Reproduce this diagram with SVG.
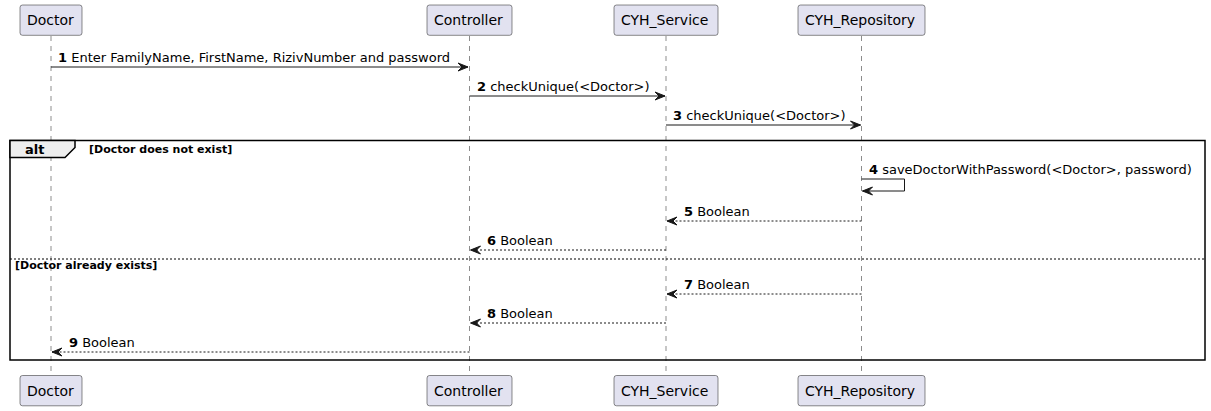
<svg xmlns="http://www.w3.org/2000/svg" width="1211" height="411" viewBox="0 0 1211 411">
<style>
.box{fill:#E2E2F0;stroke:#181818;stroke-width:0.5}
.pt{font-family:"DejaVu Sans",sans-serif;font-size:14px;fill:#000}
.life{stroke:#181818;stroke-width:0.5;stroke-dasharray:5,5;fill:none}
.msg{stroke:#181818;stroke-width:1;fill:none}
.ret{stroke:#181818;stroke-width:1;fill:none;stroke-dasharray:2,2}
.head{fill:#181818;stroke:#181818;stroke-width:1}
.ml{font-family:"DejaVu Sans",sans-serif;font-size:13px;fill:#000}
.b{font-weight:bold}
.cond{font-family:"DejaVu Sans",sans-serif;font-size:11px;font-weight:bold;fill:#000}
.frame{fill:none;stroke:#000;stroke-width:1.5}
</style>
<g id="lifelines">
<line class="life" x1="51" y1="36" x2="51" y2="376"/>
<line class="life" x1="469.5" y1="36" x2="469.5" y2="376"/>
<line class="life" x1="666" y1="36" x2="666" y2="376"/>
<line class="life" x1="861.5" y1="36" x2="861.5" y2="376"/>
</g>
<g id="alt-frame">
<rect class="frame" x="10" y="140.5" width="1195" height="219.5"/>
<polygon points="10,140.5 75,140.5 75,147.5 65,157.5 10,157.5" fill="#EEEEEE" stroke="#000" stroke-width="1.5"/>
<text class="ml b" x="25" y="154">alt</text>
<text class="cond" x="89" y="152.5">[Doctor does not exist]</text>
<line x1="10" y1="259" x2="1205" y2="259" stroke="#000" stroke-width="1" stroke-dasharray="2,2"/>
<text class="cond" x="15" y="269">[Doctor already exists]</text>
</g>
<g id="Doctor">
<rect class="box" x="20" y="5" width="62" height="30.3" rx="2.5"/>
<text class="pt" x="27" y="25">Doctor</text>
<rect class="box" x="20" y="375.5" width="62" height="30.3" rx="2.5"/>
<text class="pt" x="27" y="395.5">Doctor</text>
</g>
<g id="Controller">
<rect class="box" x="427" y="5" width="85" height="30.3" rx="2.5"/>
<text class="pt" x="434" y="25">Controller</text>
<rect class="box" x="427" y="375.5" width="85" height="30.3" rx="2.5"/>
<text class="pt" x="434" y="395.5">Controller</text>
</g>
<g id="CYH_Service">
<rect class="box" x="614" y="5" width="104" height="30.3" rx="2.5"/>
<text class="pt" x="621" y="25">CYH_Service</text>
<rect class="box" x="614" y="375.5" width="104" height="30.3" rx="2.5"/>
<text class="pt" x="621" y="395.5">CYH_Service</text>
</g>
<g id="CYH_Repository">
<rect class="box" x="798" y="5" width="127" height="30.3" rx="2.5"/>
<text class="pt" x="805" y="25">CYH_Repository</text>
<rect class="box" x="798" y="375.5" width="127" height="30.3" rx="2.5"/>
<text class="pt" x="805" y="395.5">CYH_Repository</text>
</g>
<g id="connectors">
<line class="msg" x1="51" y1="67" x2="468" y2="67"/>
<polygon class="head" points="458,63 468,67 458,71 462,67"/>
<text class="ml" x="58" y="62"><tspan class="b">1</tspan> Enter FamilyName, FirstName, RizivNumber and password</text>

<line class="msg" x1="469.5" y1="96" x2="665" y2="96"/>
<polygon class="head" points="655,92 665,96 655,100 659,96"/>
<text class="ml" x="477" y="91"><tspan class="b">2</tspan> checkUnique(&lt;Doctor&gt;)</text>

<line class="msg" x1="666" y1="125" x2="860.5" y2="125"/>
<polygon class="head" points="850.5,121 860.5,125 850.5,129 854.5,125"/>
<text class="ml" x="673" y="120"><tspan class="b">3</tspan> checkUnique(&lt;Doctor&gt;)</text>

<polyline class="msg" points="861.5,179 904.5,179 904.5,191 862.5,191"/>
<polygon class="head" points="872.5,187 862.5,191 872.5,195 868.5,191"/>
<text class="ml" x="869" y="174"><tspan class="b">4</tspan> saveDoctorWithPassword(&lt;Doctor&gt;, password)</text>

<line class="ret" x1="861.5" y1="221" x2="667" y2="221"/>
<polygon class="head" points="677,217 667,221 677,225 673,221"/>
<text class="ml" x="684" y="216"><tspan class="b">5</tspan> Boolean</text>

<line class="ret" x1="666" y1="250" x2="470.5" y2="250"/>
<polygon class="head" points="480.5,246 470.5,250 480.5,254 476.5,250"/>
<text class="ml" x="487" y="245"><tspan class="b">6</tspan> Boolean</text>

<line class="ret" x1="861.5" y1="294" x2="667" y2="294"/>
<polygon class="head" points="677,290 667,294 677,298 673,294"/>
<text class="ml" x="684" y="289"><tspan class="b">7</tspan> Boolean</text>

<line class="ret" x1="666" y1="323" x2="470.5" y2="323"/>
<polygon class="head" points="480.5,319 470.5,323 480.5,327 476.5,323"/>
<text class="ml" x="487" y="318"><tspan class="b">8</tspan> Boolean</text>

<line class="ret" x1="469.5" y1="352" x2="52" y2="352"/>
<polygon class="head" points="62,348 52,352 62,356 58,352"/>
<text class="ml" x="69" y="347"><tspan class="b">9</tspan> Boolean</text>
</g>
</svg>
